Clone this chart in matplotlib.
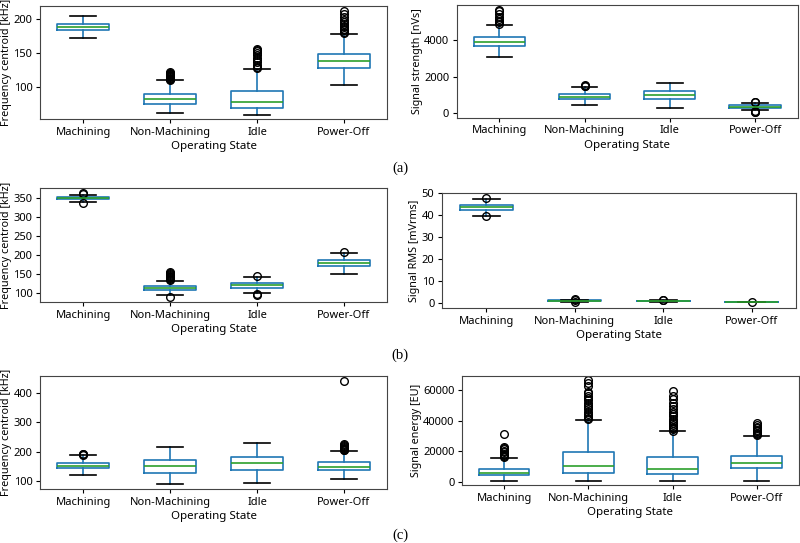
import numpy as np
import matplotlib
matplotlib.use('Agg')
import matplotlib.pyplot as plt

plt.rcParams['font.family'] = ['Noto Sans', 'DejaVu Sans']

states = ['Machining', 'Non-Machining', 'Idle', 'Power-Off']

# five-number summaries per state: [whislo, q1, med, q3, whishi]
a_freq_stats = [[171.5, 183, 188, 191.8, 204],
                [62.3, 75.4, 82.6, 89.4, 109.7],
                [60, 70, 78.7, 93.7, 126.6],
                [103.4, 128, 138.2, 148.3, 177.8]]
a_freq_fliers = [[],
                 [110.5, 111.5, 112.5, 113.5, 114.5, 115.5, 116.5, 117.5, 118.5, 119.5, 120.5, 122],
                 [128, 130, 133, 136, 139, 143, 147, 150, 152, 154, 155.5],
                 [179, 181, 183, 185, 187, 189, 192, 195, 198, 202, 206, 211]]

a_sig_stats = [[3091, 3691, 3909, 4145, 4836],
               [418, 782, 909, 1036, 1436],
               [273, 764, 1018, 1218, 1655],
               [164, 273, 345, 418, 545]]
a_sig_fliers = [[4880, 4950, 5050, 5150, 5250, 5400, 5550, 5650],
                [1460, 1500, 1530],
                [],
                [590, 620, 60, 90, 120]]

b_freq_stats = [[342, 348, 350.5, 353.5, 358.8],
                [95, 108, 113, 118.5, 133.4],
                [101, 115, 121, 127, 142],
                [150, 171, 179, 187, 205.6]]
b_freq_fliers = [[338.5, 361, 364],
                 [91, 136, 138, 140, 142, 144, 146, 148, 150, 153, 156],
                 [95, 97.5, 146],
                 [209]]

b_rms_stats = [[39.7, 42.4, 43.5, 44.6, 47.1],
               [0.3, 0.6, 0.8, 1.0, 1.3],
               [0.4, 0.65, 0.8, 0.95, 1.1],
               [0.15, 0.25, 0.3, 0.35, 0.4]]
b_rms_fliers = [[39.4, 47.6],
                [0.1, 1.4, 1.6],
                [1.2, 1.3],
                [0.5]]

c_freq_stats = [[120, 143.6, 152.5, 161.5, 188.5],
                [91, 128, 150.5, 173, 217.6],
                [93.4, 138, 160.5, 180.7, 231],
                [106.7, 138, 149.5, 164, 203]]
c_freq_fliers = [[190, 192, 194],
                 [],
                 [],
                 [205, 207, 209, 211, 213, 216, 219, 222, 226, 439]]

c_en_stats = [[436, 4145, 5890, 8510, 15710],
              [436, 5670, 10250, 19640, 40800],
              [436, 4800, 8290, 15930, 33160],
              [436, 8730, 12440, 17000, 30100]]
c_en_fliers = [[16000, 16800, 17600, 18400, 19300, 20200, 21200, 22000, 22900, 31000],
               [41200, 42000, 43000, 44500, 46000, 47500, 49000, 50500, 52000, 53500,
                55000, 56500, 58000, 59000, 63000, 64500, 66500],
               [33500, 34300, 35200, 36200, 37300, 38500, 40000, 41500, 43000, 44500,
                46000, 48000, 50000, 52000, 54000, 56000, 59500],
               [30500, 31200, 32000, 33000, 34000, 35000, 36200, 37500, 38500]]

fig = plt.figure(figsize=(8, 5.43), dpi=100)

panels = [
    ([0.05, 0.781, 0.434, 0.208], a_freq_stats, a_freq_fliers, 'Frequency centroid [kHz]', (53.6, 218.4), [100, 150, 200]),
    ([0.571, 0.783, 0.426, 0.208], a_sig_stats, a_sig_fliers, 'Signal strength [nVs]', (-255, 5909), [0, 2000, 4000]),
    ([0.05, 0.444, 0.434, 0.210], b_freq_stats, b_freq_fliers, 'Frequency centroid [kHz]', (77, 378), [100, 150, 200, 250, 300, 350]),
    ([0.5525, 0.433, 0.4425, 0.212], b_rms_stats, b_rms_fliers, 'Signal RMS [mVrms]', (-2.4, 50.1), [0, 10, 20, 30, 40, 50]),
    ([0.05, 0.0994, 0.434, 0.208], c_freq_stats, c_freq_fliers, 'Frequency centroid [kHz]', (74, 456), [100, 200, 300, 400]),
    ([0.5775, 0.1068, 0.421, 0.2007], c_en_stats, c_en_fliers, 'Signal energy [EU]', (-2182, 69400), [0, 20000, 40000, 60000]),
]

for rect, stats, fliers, ylab, ylim, yticks in panels:
    ax = fig.add_axes(rect)
    bxp = []
    for s, f in zip(stats, fliers):
        bxp.append(dict(whislo=s[0], q1=s[1], med=s[2], q3=s[3], whishi=s[4], fliers=f))
    ax.bxp(bxp, positions=[1, 2, 3, 4], widths=0.6, showfliers=True,
           boxprops=dict(color='C0', linewidth=1.2),
           whiskerprops=dict(color='C0', linewidth=1.2),
           medianprops=dict(color='C2', linewidth=1.2),
           capprops=dict(color='k', linewidth=1.2),
           flierprops=dict(marker='o', markerfacecolor='none', markeredgecolor='k', markersize=5.5))
    ax.set_xticks([1, 2, 3, 4])
    ax.set_xticklabels(states)
    ax.set_xlim(0.5, 4.5)
    ax.set_ylim(*ylim)
    ax.set_yticks(yticks)
    ax.set_ylabel(ylab, fontsize=7.8, labelpad=1)
    ax.set_xlabel('Operating State', fontsize=8.3, labelpad=2.5)
    ax.tick_params(labelsize=8, length=3, pad=2.5)
    for sp in ax.spines.values():
        sp.set_color('#444444')

for lab, y in [('(a)', 0.691), ('(b)', 0.346), ('(c)', 0.014)]:
    fig.text(0.5, y, lab, ha='center', va='center', fontsize=10.5, family='Liberation Serif')

fig.savefig('out.png', dpi=100)
